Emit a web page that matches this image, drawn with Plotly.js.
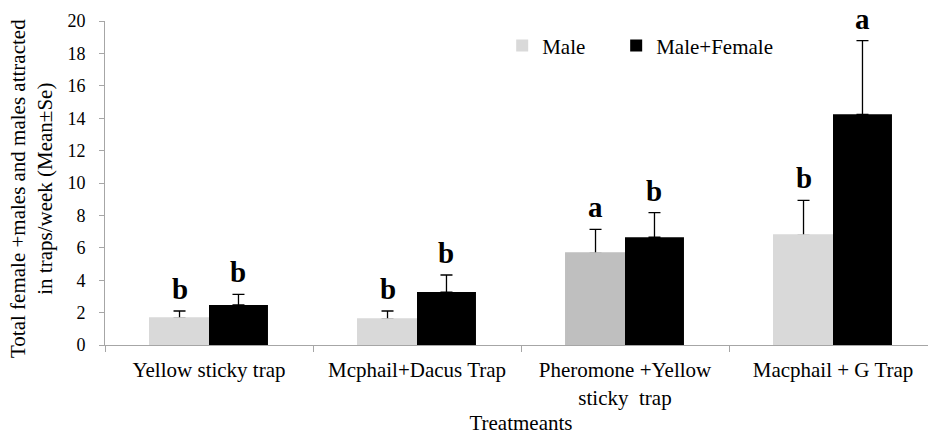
<!DOCTYPE html>
<html>
<head>
<meta charset="utf-8">
<script src="https://cdn.plot.ly/plotly-3.0.1.min.js"></script>
<style>
html, body { margin: 0; padding: 0; overflow: hidden; background: #fff; }
#chart { width: 940px; height: 435px; }
</style>
</head>
<body>
<div id="chart"></div>
<script>
// ---- data ----
var categories = ["Yellow sticky trap", "Mcphail+Dacus Trap", "Pheromone +Yellow<br>sticky  trap", "Macphail + G Trap"];
var maleMean = [1.65, 1.59, 5.66, 6.77];
var maleSe = [0.45, 0.51, 1.48, 2.16];
var bothMean = [2.47, 3.27, 6.65, 14.24];
var bothSe = [0.66, 1.05, 1.52, 4.55];
var maleLetters = ["b", "b", "a", "b"];
var bothLetters = ["b", "b", "b", "a"];
var maleColors = ["#d9d9d9", "#d9d9d9", "#bfbfbf", "#d9d9d9"];
var bothColor = "#000000";
var yTitle = "Total female +males and males attracted<br>in traps/week (Mean±Se)";
var xTitle = "Treatmeants";

var FONT = "Liberation Serif";
var AXIS_GRAY = "#a6a6a6";
var plotLeft = 105, plotRight = 3, pageW = 940;
var plotW = pageW - plotLeft - plotRight;
var bargap = 0.433;
var catW = plotW / categories.length;
var barOffset = catW * (1 - bargap) / 4;

var zeros = categories.map(function () { return 0; });
var errStyle = { color: "#000", thickness: 1.3, width: 6 };

var traceMale = {
  type: "bar", name: "Male", x: categories, y: maleMean, legend: "legend",
  offsetgroup: "male",
  marker: { color: maleColors, line: { width: 0 } },
  error_y: Object.assign({ type: "data", symmetric: false, array: maleSe, arrayminus: zeros }, errStyle),
  hoverinfo: "skip"
};
// same male bars drawn again on top, so the lower error-bar cap on the bar top is hidden
var traceMaleCover = {
  type: "bar", name: "Male", x: categories, y: maleMean, showlegend: false,
  offsetgroup: "male",
  marker: { color: maleColors, line: { color: maleColors, width: 2 } },
  hoverinfo: "skip"
};
var traceBoth = {
  type: "bar", name: "Male+Female", x: categories, y: bothMean, legend: "legend2",
  offsetgroup: "both",
  marker: { color: bothColor, line: { width: 0 } },
  error_y: Object.assign({ type: "data", symmetric: false, array: bothSe, arrayminus: zeros }, errStyle),
  hoverinfo: "skip"
};

var annotations = [];
categories.forEach(function (c, i) {
  annotations.push({
    x: c, y: maleMean[i] + maleSe[i], xref: "x", yref: "y",
    text: "<b>" + maleLetters[i] + "</b>", showarrow: false,
    xshift: -barOffset, yshift: 4, yanchor: "bottom",
    font: { family: FONT, size: 29, color: "#000" }
  });
  annotations.push({
    x: c, y: bothMean[i] + bothSe[i], xref: "x", yref: "y",
    text: "<b>" + bothLetters[i] + "</b>", showarrow: false,
    xshift: barOffset, yshift: 4, yanchor: "bottom",
    font: { family: FONT, size: 29, color: "#000" }
  });
});
// y-axis title (rotated), placed in the left margin
annotations.push({
  xref: "paper", yref: "paper", x: 0, y: 0.5, xshift: -74, yshift: -6,
  xanchor: "center", yanchor: "middle", textangle: -90, showarrow: false,
  text: yTitle, font: { family: FONT, size: 21, color: "#000" }
});

var legendBase = {
  orientation: "h", y: 0.923, xanchor: "left", yanchor: "middle",
  font: { family: FONT, size: 21, color: "#000" },
  bgcolor: "rgba(0,0,0,0)", borderwidth: 0
};

var layout = {
  width: pageW, height: 435,
  margin: { l: plotLeft, r: plotRight, t: 21, b: 90, pad: 0 },
  paper_bgcolor: "#fff", plot_bgcolor: "#fff",
  font: { family: FONT, color: "#000", size: 18 },
  barmode: "group", bargap: bargap, bargroupgap: 0,
  showlegend: true,
  legend: Object.assign({ x: 0.4774 }, legendBase),
  legend2: Object.assign({ x: 0.6144 }, legendBase),
  xaxis: {
    type: "category", range: [-0.5, 3.5],
    showline: true, linecolor: AXIS_GRAY, linewidth: 1,
    ticks: "outside", tickson: "boundaries", ticklen: 6, tickcolor: AXIS_GRAY, tickwidth: 1,
    ticklabelstandoff: 6,
    showgrid: false, zeroline: false,
    tickfont: { family: FONT, size: 21, color: "#000" },
    title: { text: xTitle, standoff: 21, font: { family: FONT, size: 21, color: "#000" } },
    fixedrange: true
  },
  yaxis: {
    range: [0, 20], dtick: 2, tick0: 0,
    showline: true, linecolor: AXIS_GRAY, linewidth: 1,
    ticks: "outside", ticklen: 5, tickcolor: AXIS_GRAY, tickwidth: 1,
    ticklabelstandoff: 10,
    showgrid: false, zeroline: false,
    tickfont: { family: FONT, size: 18, color: "#000" },
    fixedrange: true
  },
  annotations: annotations
};

Plotly.newPlot("chart", [traceMale, traceMaleCover, traceBoth], layout, { displayModeBar: false, staticPlot: true });
</script>
</body>
</html>
